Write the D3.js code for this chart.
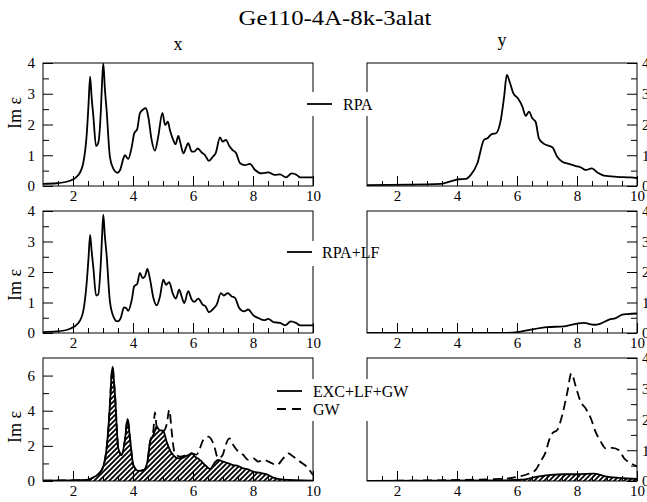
<!DOCTYPE html>
<head>
    <script src="https://d3js.org/d3.v7.min.js"></script>
    <style>
        body { margin: 0; background: #fff; }
        text { font-family: "Liberation Serif", "Times New Roman", serif; fill: #000; }
    </style>
</head>

<body>
    <div id="chart"></div>
</body>

<script>

    const width = 647,
        height = 502;

    // x ticks (energy, eV)
    const xMajor = [2, 4, 6, 8, 10];
    const xMinor = d3.range(1.5, 10.01, 0.5);

    // top row: RPA
    const rpaX = [[1.0,0.07],[1.46,0.09],[1.9,0.17],[2.18,0.36],[2.34,0.74],[2.46,1.71],[2.52,2.7],[2.57,3.56],[2.62,2.9],[2.68,2.25],[2.77,1.3],[2.84,1.39],[2.93,2.47],[2.97,3.4],[3.01,3.99],[3.06,3.2],[3.12,2.47],[3.23,0.95],[3.34,0.57],[3.48,0.43],[3.57,0.52],[3.68,0.9],[3.73,1.0],[3.84,0.88],[3.96,1.28],[4.04,1.71],[4.14,1.85],[4.23,2.36],[4.34,2.49],[4.43,2.53],[4.51,2.25],[4.62,1.5],[4.73,1.15],[4.84,1.6],[4.98,2.38],[5.07,1.98],[5.16,2.09],[5.23,1.82],[5.34,1.5],[5.42,1.36],[5.51,1.63],[5.57,1.44],[5.68,1.06],[5.77,1.26],[5.84,1.39],[5.96,1.12],[6.04,1.12],[6.16,1.22],[6.29,1.09],[6.4,1.0],[6.53,0.82],[6.66,0.95],[6.76,1.08],[6.9,1.58],[6.99,1.44],[7.1,1.5],[7.21,1.3],[7.32,1.17],[7.43,1.08],[7.57,0.74],[7.73,0.68],[7.9,0.72],[8.07,0.52],[8.29,0.41],[8.51,0.44],[8.73,0.36],[8.9,0.38],[9.1,0.28],[9.29,0.41],[9.46,0.36],[9.57,0.28],[10,0.28]];
    const rpaY = [[1.0,0.03],[3.46,0.07],[3.84,0.17],[4.07,0.22],[4.29,0.23],[4.46,0.36],[4.68,0.74],[4.9,1.5],[5.01,1.55],[5.16,1.69],[5.29,1.71],[5.46,2.15],[5.57,2.9],[5.66,3.61],[5.77,3.34],[5.88,3.01],[6.03,2.85],[6.18,2.58],[6.29,2.28],[6.4,2.42],[6.51,2.2],[6.62,2.09],[6.73,1.55],[6.9,1.37],[7.18,1.26],[7.34,0.95],[7.51,0.79],[7.73,0.72],[7.96,0.65],[8.12,0.61],[8.29,0.52],[8.49,0.57],[8.68,0.44],[8.9,0.34],[9.34,0.3],[9.79,0.28],[10,0.26]];

    // middle row: RPA+LF
    const rpaLfX = [[1.0,0.03],[1.46,0.05],[1.9,0.14],[2.18,0.33],[2.34,0.71],[2.46,1.69],[2.52,2.5],[2.57,3.22],[2.62,2.7],[2.68,2.13],[2.77,1.23],[2.84,1.26],[2.93,2.35],[2.97,3.2],[3.01,3.88],[3.06,3.2],[3.12,2.57],[3.23,1.04],[3.37,0.49],[3.48,0.38],[3.59,0.49],[3.7,0.84],[3.77,0.82],[3.84,0.73],[3.96,1.09],[4.04,1.53],[4.14,1.61],[4.23,1.97],[4.32,1.8],[4.4,1.86],[4.48,2.1],[4.57,1.75],[4.68,1.15],[4.79,0.91],[4.9,1.2],[5.01,1.75],[5.1,1.58],[5.21,1.67],[5.32,1.31],[5.43,1.13],[5.54,1.42],[5.62,1.2],[5.71,0.98],[5.84,1.37],[5.96,1.09],[6.04,1.02],[6.18,1.13],[6.32,0.93],[6.42,0.87],[6.53,0.68],[6.68,0.8],[6.79,0.93],[6.93,1.31],[7.03,1.23],[7.16,1.31],[7.29,1.2],[7.4,1.15],[7.54,0.82],[7.7,0.71],[7.84,0.77],[8.01,0.58],[8.18,0.49],[8.37,0.42],[8.51,0.46],[8.68,0.36],[8.9,0.33],[9.07,0.25],[9.26,0.38],[9.43,0.33],[9.57,0.25],[10,0.25]];
    const rpaLfY = [[1.0,0.0],[5.5,0.0],[6.01,0.03],[6.46,0.11],[7.01,0.19],[7.57,0.22],[8.01,0.31],[8.23,0.33],[8.57,0.27],[8.79,0.31],[9.07,0.44],[9.29,0.49],[9.51,0.6],[9.68,0.62],[10,0.64]];

    // bottom row: EXC+LF+GW (hatched) and GW (dashed)
    const excX = [[1.0,0.02],[2.46,0.06],[2.73,0.25],[2.96,0.63],[3.12,1.86],[3.23,4.33],[3.28,5.9],[3.32,6.51],[3.36,5.8],[3.4,4.9],[3.51,1.86],[3.62,1.48],[3.73,2.33],[3.82,3.53],[3.9,2.43],[4.01,0.91],[4.18,0.57],[4.37,0.63],[4.48,1.1],[4.57,2.24],[4.68,2.62],[4.79,3.09],[4.88,2.9],[5.01,2.85],[5.12,2.24],[5.26,1.67],[5.34,1.48],[5.51,1.29],[5.68,1.33],[5.84,1.48],[5.96,1.57],[6.07,1.39],[6.23,1.2],[6.4,0.91],[6.57,0.68],[6.73,1.06],[6.84,1.2],[7.01,1.1],[7.18,1.0],[7.34,0.91],[7.51,0.85],[7.68,0.72],[7.84,0.66],[8.01,0.53],[8.23,0.47],[8.46,0.38],[8.68,0.19],[9.01,0.08],[10,0.02]];
    const gwX = [[1.0,0.02],[2.46,0.06],[2.73,0.25],[2.96,0.63],[3.12,1.86],[3.23,4.33],[3.28,5.9],[3.32,6.51],[3.36,5.8],[3.4,4.9],[3.51,1.86],[3.62,1.48],[3.73,2.33],[3.82,3.53],[3.9,2.43],[4.01,0.91],[4.18,0.57],[4.37,0.63],[4.48,1.1],[4.57,2.24],[4.68,2.9],[4.73,3.9],[4.79,3.1],[4.88,2.9],[5.01,2.85],[5.12,3.2],[5.21,4.04],[5.29,2.81],[5.38,1.67],[5.57,1.38],[5.79,1.48],[5.96,1.57],[6.12,1.5],[6.23,1.86],[6.34,2.33],[6.51,2.52],[6.68,2.14],[6.84,1.29],[6.99,1.48],[7.07,1.95],[7.21,2.43],[7.34,2.05],[7.51,1.67],[7.68,1.48],[7.84,1.2],[8.01,1.29],[8.18,1.1],[8.34,1.2],[8.57,1.06],[8.79,0.91],[9.01,1.29],[9.18,1.57],[9.34,1.39],[9.57,1.1],[9.79,0.82],[9.96,0.44],[10,0.34]];
    const excY = [[1.0,0.0],[5.34,0.02],[6.12,0.04],[6.68,0.14],[7.12,0.2],[7.57,0.22],[8.01,0.22],[8.57,0.24],[9.01,0.14],[9.57,0.09],[10,0.07]];
    const gwY = [[1.0,0.0],[5.57,0.07],[6.01,0.14],[6.34,0.22],[6.62,0.36],[6.79,0.65],[6.96,0.95],[7.07,1.33],[7.18,1.55],[7.34,1.66],[7.51,2.15],[7.68,2.9],[7.81,3.5],[7.96,3.07],[8.12,2.58],[8.29,2.36],[8.46,2.04],[8.62,1.6],[8.79,1.28],[8.96,1.06],[9.18,1.08],[9.4,1.0],[9.57,0.74],[9.73,0.61],[9.9,0.52],[10,0.47]];

    const cols = [{x0: 43, x1: 313, side: "left"}, {x0: 367, x1: 637, side: "right"}];
    const rows = [{y0: 63, y1: 186}, {y0: 211, y1: 333}, {y0: 358, y1: 481}];

    const panels = [
        {r: 0, c: 0, ymax: 4, yMajor: [0,1,2,3,4], yMinor: d3.range(0.5, 4, 1), solid: rpaX},
        {r: 0, c: 1, ymax: 4, yMajor: [0,1,2,3,4], yMinor: d3.range(0.5, 4, 1), solid: rpaY},
        {r: 1, c: 0, ymax: 4, yMajor: [0,1,2,3,4], yMinor: d3.range(0.5, 4, 1), solid: rpaLfX},
        {r: 1, c: 1, ymax: 4, yMajor: [0,1,2,3,4], yMinor: d3.range(0.5, 4, 1), solid: rpaLfY},
        {r: 2, c: 0, ymax: 7, yMajor: [0,2,4,6], yMinor: [1,3,5], solid: excX, dashed: gwX, hatch: true},
        {r: 2, c: 1, ymax: 4, yMajor: [0,1,2,3,4], yMinor: d3.range(0.5, 4, 1), solid: excY, dashed: gwY, hatch: true}
    ];

    const svg = d3.select("#chart").append("svg")
        .attr("width", width)
        .attr("height", height);

    const defs = svg.append("defs");
    defs.append("pattern")
        .attr("id", "hatch")
        .attr("patternUnits", "userSpaceOnUse")
        .attr("width", 5).attr("height", 5)
        .append("path")
        .attr("d", "M-1,1 l2,-2 M0,5 l5,-5 M4,6 l2,-2")
        .attr("stroke", "#000")
        .attr("stroke-width", 1.8);

    svg.append("text")
        .attr("x", 335).attr("y", 25)
        .attr("text-anchor", "middle")
        .attr("font-size", 21)
        .attr("textLength", 193)
        .attr("lengthAdjust", "spacingAndGlyphs")
        .text("Ge110-4A-8k-3alat");

    svg.append("text").attr("x", 178).attr("y", 50)
        .attr("text-anchor", "middle").attr("font-size", 18).text("x");
    svg.append("text").attr("x", 502).attr("y", 46)
        .attr("text-anchor", "middle").attr("font-size", 18).text("y");

    [113, 285, 427].forEach(cy => {
        svg.append("text")
            .attr("transform", `translate(21,${cy}) rotate(-90)`)
            .attr("text-anchor", "middle")
            .attr("font-size", 18)
            .text("Im \u03b5");
    });

    panels.forEach((p, i) => {
        const col = cols[p.c], row = rows[p.r];
        const x = d3.scaleLinear().domain([1, 10]).range([col.x0, col.x1]);
        const y = d3.scaleLinear().domain([0, p.ymax]).range([row.y1, row.y0]);
        const g = svg.append("g");

        g.append("clipPath").attr("id", "clip" + i)
            .append("rect")
            .attr("x", col.x0).attr("y", row.y0)
            .attr("width", col.x1 - col.x0).attr("height", row.y1 - row.y0);

        const line = d3.line().x(d => x(d[0])).y(d => y(d[1])).curve(d3.curveMonotoneX);
        const area = d3.area().x(d => x(d[0])).y0(y(0)).y1(d => y(d[1])).curve(d3.curveMonotoneX);

        const plot = g.append("g").attr("clip-path", `url(#clip${i})`);
        if (p.hatch) {
            plot.append("path").datum(p.solid).attr("d", area)
                .attr("fill", "url(#hatch)");
        }
        if (p.dashed) {
            plot.append("path").datum(p.dashed).attr("d", line)
                .attr("fill", "none").attr("stroke", "#000")
                .attr("stroke-width", 1.8).attr("stroke-dasharray", "9,5");
        }
        plot.append("path").datum(p.solid).attr("d", line)
            .attr("fill", "none").attr("stroke", "#000")
            .attr("stroke-width", 1.8).attr("stroke-linejoin", "round");

        // x axis
        g.append("g").attr("transform", `translate(0,${row.y1})`)
            .call(d3.axisBottom(x).tickValues(xMajor).tickSize(-10).tickPadding(4).tickFormat(d3.format("d")));
        g.append("g").attr("transform", `translate(0,${row.y1})`)
            .call(d3.axisBottom(x).tickValues(xMinor.filter(v => !xMajor.includes(v))).tickSize(-5).tickFormat(""));

        // y axis
        const yAxis = col.side === "left" ? d3.axisLeft(y) : d3.axisRight(y);
        g.append("g").attr("transform", `translate(${col.side === "left" ? col.x0 : col.x1},0)`)
            .call(yAxis.tickValues(p.yMajor).tickSize(-10).tickPadding(col.side === "left" ? 8 : 5).tickFormat(d3.format("d")));
        const yAxisMinor = col.side === "left" ? d3.axisLeft(y) : d3.axisRight(y);
        g.append("g").attr("transform", `translate(${col.side === "left" ? col.x0 : col.x1},0)`)
            .call(yAxisMinor.tickValues(p.yMinor).tickSize(-6).tickFormat(""));

        g.selectAll(".domain").remove();
        g.selectAll(".tick line").attr("stroke", "#000").attr("stroke-width", 1);
        g.selectAll(".tick text")
            .attr("font-family", "Liberation Serif, Times New Roman, serif")
            .attr("font-size", 15).attr("fill", "#000");

        g.append("rect")
            .attr("x", col.x0).attr("y", row.y0)
            .attr("width", col.x1 - col.x0).attr("height", row.y1 - row.y0)
            .attr("fill", "none").attr("stroke", "#000").attr("stroke-width", 1);
    });

    // legends (white boxes break the frames, as in the original)
    const legends = [
        {box: [300, 92, 76, 24], items: [{label: "RPA", y: 104, dash: null, lx: 307, tx: 343}]},
        {box: [283, 241, 80, 25], items: [{label: "RPA+LF", y: 252, dash: null, lx: 287, tx: 322}]},
        {box: [272, 379, 144, 42], items: [
            {label: "EXC+LF+GW", y: 391, dash: null, lx: 277, tx: 313},
            {label: "GW", y: 409, dash: "9,6", lx: 277, tx: 313}
        ]}
    ];

    legends.forEach(lg => {
        svg.append("rect")
            .attr("x", lg.box[0]).attr("y", lg.box[1])
            .attr("width", lg.box[2]).attr("height", lg.box[3])
            .attr("fill", "#fff");
        lg.items.forEach(it => {
            svg.append("line")
                .attr("x1", it.lx).attr("x2", it.lx + 25)
                .attr("y1", it.y).attr("y2", it.y)
                .attr("stroke", "#000").attr("stroke-width", 1.8)
                .attr("stroke-dasharray", it.dash);
            svg.append("text")
                .attr("x", it.tx).attr("y", it.y + 5.5)
                .attr("font-size", 16)
                .text(it.label);
        });
    });

</script>
